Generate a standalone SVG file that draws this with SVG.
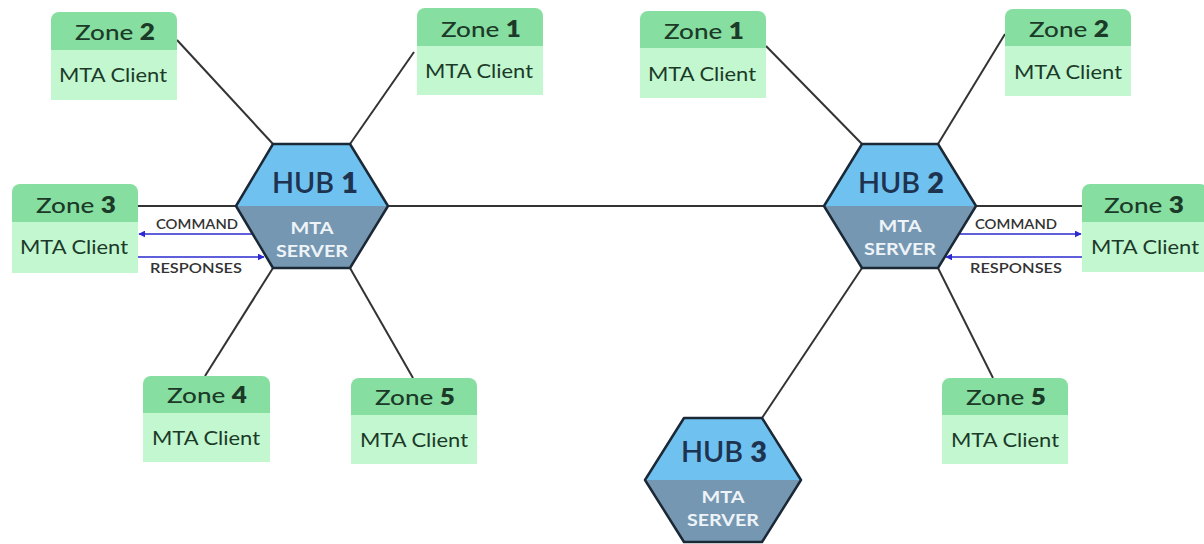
<svg xmlns="http://www.w3.org/2000/svg" width="1204" height="544" viewBox="0 0 1204 544">
<defs>
<style>
.hd{fill:#86dea0}
.bd{fill:#c2f7d0}
.zt{font-family:Lato,"Open Sans",sans-serif;font-size:22px;fill:#1c3a28;text-anchor:middle;font-weight:500}
.zt tspan{font-weight:800}
.ct{font-family:Lato,"Open Sans",sans-serif;font-size:19px;fill:#1c3a28;text-anchor:middle}
.top{fill:#6fc2f0}
.bot{fill:#7597b2}
.hex{fill:none;stroke:#1b2836;stroke-width:2.5;stroke-linejoin:round}
.ht{font-family:Lato,"Open Sans",sans-serif;font-size:28px;fill:#1e3350;text-anchor:middle;font-weight:600}
.ht tspan{font-weight:800}
.st{font-family:Lato,"Open Sans",sans-serif;font-size:17px;fill:#eef3f8;text-anchor:middle;font-weight:700}
.ln{stroke:#333;stroke-width:2;fill:none}
.ar{stroke:#2a2ad0;stroke-width:1.6;fill:none}
.lb{font-family:Lato,"Open Sans",sans-serif;font-size:13px;fill:#333;text-anchor:middle;font-weight:600}
</style>
<marker id="ah" viewBox="0 0 10 10" refX="9" refY="5" markerWidth="7" markerHeight="7" orient="auto" markerUnits="userSpaceOnUse">
<path d="M0,0 L10,5 L0,10 z" fill="#2a2ad0"/>
</marker>
</defs>
<rect width="1204" height="544" fill="#fff"/>

<g id="connectors">
<line class="ln" x1="177" y1="40" x2="273" y2="144"/>
<line class="ln" x1="350" y1="144" x2="414" y2="52"/>
<line class="ln" x1="138" y1="206" x2="236" y2="206"/>
<line class="ln" x1="273" y1="268" x2="205" y2="376"/>
<line class="ln" x1="350" y1="268" x2="413" y2="378"/>
<line class="ln" x1="388" y1="206" x2="824" y2="206"/>
<line class="ln" x1="766" y1="46" x2="862" y2="144"/>
<line class="ln" x1="1005" y1="34" x2="938" y2="144"/>
<line class="ln" x1="976" y1="206" x2="1082" y2="206"/>
<line class="ln" x1="938" y1="268" x2="993" y2="378"/>
<line class="ln" x1="862" y1="268" x2="762" y2="418"/>
<line class="ar" x1="252" y1="234" x2="139" y2="234" marker-end="url(#ah)"/>
<line class="ar" x1="138" y1="257" x2="264" y2="257" marker-end="url(#ah)"/>
<line class="ar" x1="958" y1="234" x2="1081" y2="234" marker-end="url(#ah)"/>
<line class="ar" x1="1082" y1="257" x2="946" y2="257" marker-end="url(#ah)"/>
<text class="lb" x="197" y="229" textLength="82" lengthAdjust="spacingAndGlyphs">COMMAND</text>
<text class="lb" x="196" y="273" textLength="92" lengthAdjust="spacingAndGlyphs">RESPONSES</text>
<text class="lb" x="1016" y="229" textLength="82" lengthAdjust="spacingAndGlyphs">COMMAND</text>
<text class="lb" x="1016" y="273" textLength="92" lengthAdjust="spacingAndGlyphs">RESPONSES</text>
</g>

<g id="hub1">
<polygon class="top" points="273,144 350,144 388,206 236,206"/>
<polygon class="bot" points="236,206 388,206 350,268 273,268"/>
<polygon class="hex" points="273,144 350,144 388,206 350,268 273,268 236,206"/>
<text class="ht" x="315" y="193" textLength="86" lengthAdjust="spacingAndGlyphs">HUB <tspan>1</tspan></text>
<text class="st" x="312" y="234" textLength="43" lengthAdjust="spacingAndGlyphs">MTA</text>
<text class="st" x="312" y="257" textLength="72" lengthAdjust="spacingAndGlyphs">SERVER</text>
</g>

<g id="hub2">
<polygon class="top" points="862,144 938,144 976,206 824,206"/>
<polygon class="bot" points="824,206 976,206 938,268 862,268"/>
<polygon class="hex" points="862,144 938,144 976,206 938,268 862,268 824,206"/>
<text class="ht" x="901" y="193" textLength="86" lengthAdjust="spacingAndGlyphs">HUB <tspan>2</tspan></text>
<text class="st" x="900" y="232" textLength="43" lengthAdjust="spacingAndGlyphs">MTA</text>
<text class="st" x="900" y="255" textLength="72" lengthAdjust="spacingAndGlyphs">SERVER</text>
</g>

<g id="hub3">
<polygon class="top" points="684,418 762,418 801,480 645,480"/>
<polygon class="bot" points="645,480 801,480 762,542 684,542"/>
<polygon class="hex" points="684,418 762,418 801,480 762,542 684,542 645,480"/>
<text class="ht" x="724" y="462" textLength="86" lengthAdjust="spacingAndGlyphs">HUB <tspan>3</tspan></text>
<text class="st" x="723" y="503" textLength="43" lengthAdjust="spacingAndGlyphs">MTA</text>
<text class="st" x="723" y="526" textLength="72" lengthAdjust="spacingAndGlyphs">SERVER</text>
</g>

<g id="zone2-left">
<rect class="bd" x="51" y="48" width="126" height="52"/>
<path class="hd" d="M51,50 v-30 a8,8 0 0 1 8,-8 h110 a8,8 0 0 1 8,8 v30 z"/>
<text class="zt" x="115" y="40" textLength="80" lengthAdjust="spacingAndGlyphs">Zone <tspan>2</tspan></text>
<text class="ct" x="113" y="82" textLength="108" lengthAdjust="spacingAndGlyphs">MTA Client</text>
</g>

<g id="zone1-left">
<rect class="bd" x="417" y="44" width="126" height="51"/>
<path class="hd" d="M417,46 v-30 a8,8 0 0 1 8,-8 h110 a8,8 0 0 1 8,8 v30 z"/>
<text class="zt" x="481" y="37" textLength="80" lengthAdjust="spacingAndGlyphs">Zone <tspan>1</tspan></text>
<text class="ct" x="479" y="78" textLength="108" lengthAdjust="spacingAndGlyphs">MTA Client</text>
</g>

<g id="zone3-left">
<rect class="bd" x="12" y="220" width="126" height="53"/>
<path class="hd" d="M12,222 v-30 a8,8 0 0 1 8,-8 h110 a8,8 0 0 1 8,8 v30 z"/>
<text class="zt" x="76" y="213" textLength="80" lengthAdjust="spacingAndGlyphs">Zone <tspan>3</tspan></text>
<text class="ct" x="74" y="254" textLength="108" lengthAdjust="spacingAndGlyphs">MTA Client</text>
</g>

<g id="zone4-left">
<rect class="bd" x="143" y="411" width="127" height="51"/>
<path class="hd" d="M143,413 v-29 a8,8 0 0 1 8,-8 h111 a8,8 0 0 1 8,8 v29 z"/>
<text class="zt" x="207" y="403" textLength="80" lengthAdjust="spacingAndGlyphs">Zone <tspan>4</tspan></text>
<text class="ct" x="206" y="445" textLength="108" lengthAdjust="spacingAndGlyphs">MTA Client</text>
</g>

<g id="zone5-left">
<rect class="bd" x="351" y="413" width="126" height="51"/>
<path class="hd" d="M351,415 v-29 a8,8 0 0 1 8,-8 h110 a8,8 0 0 1 8,8 v29 z"/>
<text class="zt" x="415" y="405" textLength="80" lengthAdjust="spacingAndGlyphs">Zone <tspan>5</tspan></text>
<text class="ct" x="414" y="447" textLength="108" lengthAdjust="spacingAndGlyphs">MTA Client</text>
</g>

<g id="zone1-right">
<rect class="bd" x="640" y="46" width="126" height="52"/>
<path class="hd" d="M640,48 v-29 a8,8 0 0 1 8,-8 h110 a8,8 0 0 1 8,8 v29 z"/>
<text class="zt" x="704" y="39" textLength="80" lengthAdjust="spacingAndGlyphs">Zone <tspan>1</tspan></text>
<text class="ct" x="702" y="81" textLength="108" lengthAdjust="spacingAndGlyphs">MTA Client</text>
</g>

<g id="zone2-right">
<rect class="bd" x="1005" y="44" width="126" height="52"/>
<path class="hd" d="M1005,46 v-29 a8,8 0 0 1 8,-8 h110 a8,8 0 0 1 8,8 v29 z"/>
<text class="zt" x="1069" y="37" textLength="80" lengthAdjust="spacingAndGlyphs">Zone <tspan>2</tspan></text>
<text class="ct" x="1068" y="79" textLength="108" lengthAdjust="spacingAndGlyphs">MTA Client</text>
</g>

<g id="zone3-right">
<rect class="bd" x="1082" y="220" width="126" height="52"/>
<path class="hd" d="M1082,222 v-30 a8,8 0 0 1 8,-8 h110 a8,8 0 0 1 8,8 v30 z"/>
<text class="zt" x="1144" y="213" textLength="80" lengthAdjust="spacingAndGlyphs">Zone <tspan>3</tspan></text>
<text class="ct" x="1145" y="254" textLength="108" lengthAdjust="spacingAndGlyphs">MTA Client</text>
</g>

<g id="zone5-right">
<rect class="bd" x="942" y="413" width="126" height="51"/>
<path class="hd" d="M942,415 v-29 a8,8 0 0 1 8,-8 h110 a8,8 0 0 1 8,8 v29 z"/>
<text class="zt" x="1006" y="405" textLength="80" lengthAdjust="spacingAndGlyphs">Zone <tspan>5</tspan></text>
<text class="ct" x="1005" y="447" textLength="108" lengthAdjust="spacingAndGlyphs">MTA Client</text>
</g>
</svg>
